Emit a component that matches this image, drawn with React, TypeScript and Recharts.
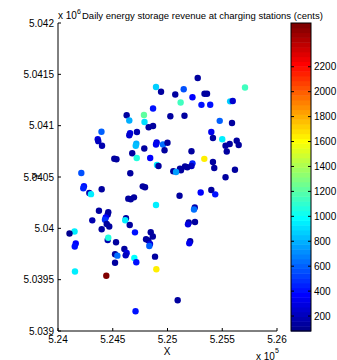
import { ScatterChart, Scatter, XAxis, YAxis } from "recharts";

// station coordinates (m) and daily storage revenue (cents)
const eastings = [
  525276, 524895, 525708, 525148, 524941, 525071, 525228, 525338, 525361, 525120,
  525310, 525390, 525572, 525596, 524868, 524627, 524785, 524651, 524790, 525026,
  525155, 525477, 525589, 524828, 524868, 524397, 524721, 524658, 524651, 525400,
  524363, 524368, 524402, 525415, 525500, 525632, 525650, 524715, 524710, 524901,
  524895, 524788, 524959, 525000, 524973, 525568, 525530, 525541, 525219, 524678,
  524719, 524842, 524514, 524534, 525336, 525415, 525427, 525616, 525530,
  525228, 525219, 525160, 525181, 525114, 525123, 525053, 525078, 524904, 524918,
  524213, 524660, 524237, 524231, 524286, 524301, 524399, 524774, 524795, 524642,
  524664, 524694, 525110, 525303, 525400, 525436, 524895, 525249, 525242, 524374,
  524459, 524454, 524313, 524436, 524429, 524445, 524468, 524621, 524614, 524655,
  524399, 525194, 525187, 525251, 524151, 524105, 524703, 524847, 524866, 524804,
  524825, 524840, 524834, 524454, 524459, 524530, 524162, 524153, 525207, 525199,
  524521, 524542, 524606, 524627, 524618, 524886, 524697, 524715, 524521,
  524898, 524155, 524441, 525093, 524708,
];

const northings = [
  5041464, 5041377, 5041372, 5041354, 5041330, 5041304, 5041277, 5041311, 5041311, 5041226,
  5041203, 5041204, 5041237, 5041240, 5041167, 5041101, 5041104, 5041050, 5041036, 5041092,
  5041096, 5041047, 5041026, 5040984, 5040997, 5040941, 5040938, 5040927, 5040907, 5040938,
  5040867, 5040849, 5040804, 5040880, 5040868, 5040853, 5040812, 5040824, 5040804, 5040836,
  5040817, 5040778, 5040817, 5040834, 5040761, 5040821, 5040805, 5040748, 5040751, 5040731,
  5040685, 5040685, 5040678, 5040673, 5040677, 5040646, 5040588, 5040571, 5040497,
  5040633, 5040607, 5040602, 5040595, 5040581, 5040566, 5040556, 5040549, 5040617, 5040607,
  5040539, 5040536, 5040410, 5040390, 5040344, 5040333, 5040380, 5040409, 5040400, 5040289,
  5040283, 5040302, 5040317, 5040349, 5040373, 5040331, 5040227, 5040203, 5040183, 5040171,
  5040156, 5040135, 5040078, 5040106, 5040083, 5040042, 5040018, 5040099, 5040079, 5040033,
  5039991, 5040057, 5040039, 5040062, 5039969, 5039950, 5039961, 5039962, 5039921, 5039894,
  5039883, 5039848, 5039828, 5039886, 5039908, 5039864, 5039852, 5039823, 5039874, 5039854,
  5039747, 5039734, 5039799, 5039760, 5039737, 5039724, 5039711, 5039669, 5039665,
  5039602, 5039580, 5039538, 5039300, 5039192,
];

const revenue = [
  150, 870, 1150, 550, 140, 130, 380, 130, 140, 1150,
  420, 420, 880, 250, 400, 130, 1200, 800, 900, 140,
  140, 620, 150, 150, 140, 600, 160, 300, 250, 350,
  300, 200, 160, 130, 930, 150, 150, 780, 850, 280,
  320, 140, 650, 150, 140, 140, 130, 140, 140, 150,
  1080, 380, 140, 150, 1650, 150, 140, 150, 140,
  450, 200, 130, 140, 130, 140, 130, 750, 950, 150,
  560, 140, 400, 430, 160, 960, 150, 140, 150, 140,
  140, 150, 140, 380, 150, 420, 950, 160, 650, 140,
  150, 150, 160, 380, 500, 140, 150, 150, 950, 140,
  140, 150, 300, 150, 960, 80, 420, 150, 140, 150,
  140, 300, 600, 160, 1080, 150, 380, 400, 150, 350,
  150, 650, 140, 300, 200, 150, 980, 420, 140,
  1650, 960, 2551, 150, 420,
];

const xTicks = [524000, 524500, 525000, 525500, 526000];
const yTicks = [5039000, 5039500, 5040000, 5040500, 5041000, 5041500, 5042000];
const colorTicks = [200, 400, 600, 800, 1000, 1200, 1400, 1600, 1800, 2000, 2200];

const points = eastings.map((x, i) => ({ x, y: northings[i], revenue: revenue[i] }));

const cMin = Math.min(...revenue);
const cMax = Math.max(...revenue);
const LEVELS = 64;

// matlab jet(64)
const u = (k: number) => (k <= 16 ? k / 16 : k <= 31 ? 1 : (48 - k) / 16);
const part = (k: number) => (k >= 1 && k <= 47 ? u(k) : 0);
const jetRow = (m: number) => {
  const c = [part(m - 24), part(m - 8), part(m + 8)].map((v) => Math.round(v * 255));
  return `rgb(${c[0]},${c[1]},${c[2]})`;
};
const colorOf = (v: number) => {
  const m = Math.min(LEVELS, Math.floor(((v - cMin) / (cMax - cMin)) * LEVELS) + 1);
  return jetRow(m);
};

const font = "'Liberation Sans', Arial, Helvetica, sans-serif";
const fmt = (v: number, scale: number) => String(Number((v / scale).toFixed(4)));

const XTick = (props: any) => {
  const { x, y, payload } = props;
  return (
    <g>
      <line x1={x} y1={y} x2={x} y2={y - 3} stroke="#000" />
      <text x={x} y={y + 12} textAnchor="middle" fontSize={10} fontFamily={font} fill="#000">
        {fmt(payload.value, 1e5)}
      </text>
    </g>
  );
};

const YTick = (props: any) => {
  const { x, y, payload } = props;
  return (
    <g>
      <line x1={x} y1={y} x2={x + 3} y2={y} stroke="#000" />
      <text x={x - 4} y={y + 3.5} textAnchor="end" fontSize={10} fontFamily={font} fill="#000">
        {fmt(payload.value, 1e6)}
      </text>
    </g>
  );
};

const Dot = (props: any) => (
  <circle cx={props.cx} cy={props.cy} r={3.2} fill={colorOf(props.payload.revenue)} />
);

// colorbar geometry
const cbX = 291;
const cbW = 20;
const cbTop = 23;
const cbBottom = 331;
const cbY = (v: number) => cbBottom - ((v - cMin) / (cMax - cMin)) * (cbBottom - cbTop);

const App = () => {
  const band = (cbBottom - cbTop) / LEVELS;
  return (
    <div style={{ position: "absolute", left: 0, top: 0, width: 337, height: 360, background: "#fff" }}>
      <ScatterChart width={337} height={360} margin={{ top: 23, right: 60, bottom: 0, left: 0 }}>
        <XAxis
          type="number"
          dataKey="x"
          domain={[524000, 526000]}
          ticks={xTicks}
          height={29}
          tickSize={0}
          tickMargin={0}
          tick={<XTick />}
          axisLine={{ stroke: "#000" }}
          allowDataOverflow
        />
        <YAxis
          type="number"
          dataKey="y"
          domain={[5039000, 5042000]}
          ticks={yTicks}
          width={58}
          tickSize={0}
          tickMargin={0}
          tick={<YTick />}
          axisLine={{ stroke: "#000" }}
          allowDataOverflow
        />
        <Scatter data={points} shape={Dot} isAnimationActive={false} />
      </ScatterChart>
      <svg
        width={337}
        height={360}
        style={{ position: "absolute", left: 0, top: 0, pointerEvents: "none" }}
        fontFamily={font}
      >
        <text x={58} y={18.5} fontSize={10}>x 10</text>
        <text x={77} y={14} fontSize={7}>6</text>
        <text x={82} y={18.5} fontSize={9.5}>Daily energy storage revenue at charging stations (cents)</text>
        <text x={167} y={355} fontSize={10} textAnchor="middle">X</text>
        <text x={256} y={359.5} fontSize={10}>x 10</text>
        <text x={275} y={353} fontSize={7}>5</text>
        <text x={0} y={0} fontSize={10} textAnchor="middle" transform="translate(40,176) rotate(-90)">Y</text>
        {Array.from({ length: LEVELS }, (_, i) => (
          <rect
            key={i}
            x={cbX}
            y={cbBottom - (i + 1) * band}
            width={cbW}
            height={band + 0.5}
            fill={jetRow(i + 1)}
          />
        ))}
        <rect x={cbX} y={cbTop} width={cbW} height={cbBottom - cbTop} fill="none" stroke="#000" />
        {colorTicks.map((t) => (
          <g key={t}>
            <line x1={cbX} x2={cbX + 3} y1={cbY(t)} y2={cbY(t)} stroke="#000" />
            <line x1={cbX + cbW} x2={cbX + cbW - 3} y1={cbY(t)} y2={cbY(t)} stroke="#000" />
            <text x={cbX + cbW + 3} y={cbY(t) + 3.5} fontSize={10}>{t}</text>
          </g>
        ))}
      </svg>
    </div>
  );
};

export default App;
